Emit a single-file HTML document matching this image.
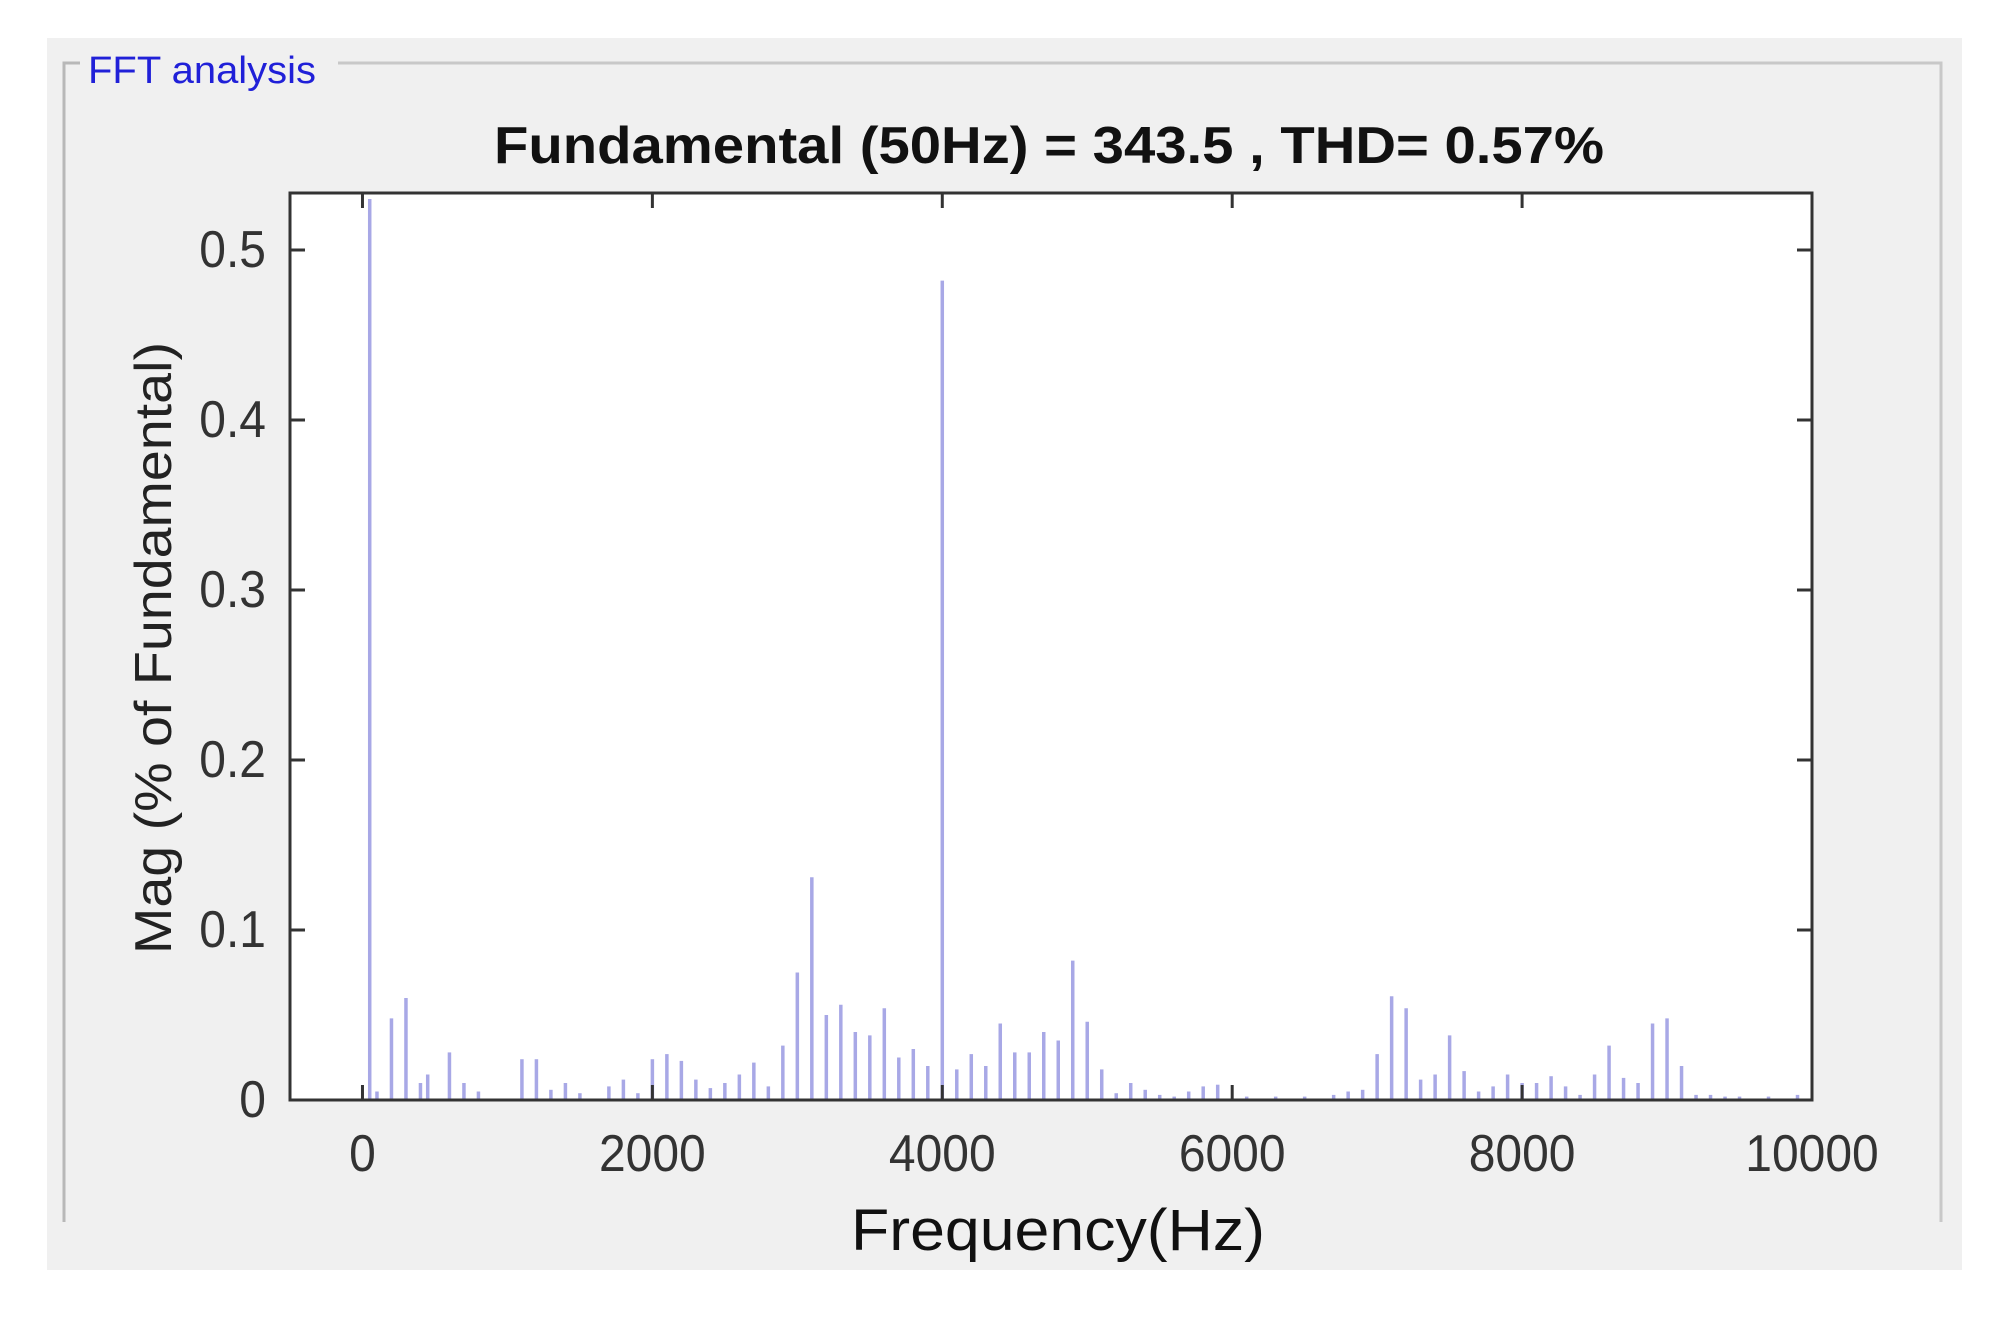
<!DOCTYPE html>
<html><head><meta charset="utf-8"><style>
html,body{margin:0;padding:0;background:#fff;width:2000px;height:1317px;overflow:hidden}
svg{display:block}
text{font-family:"Liberation Sans",sans-serif}
</style></head><body>
<svg id="chart" width="2000" height="1317" viewBox="0 0 2000 1317">
<rect x="47" y="38" width="1915" height="1232" fill="#f0f0f0"/>
<polyline points="64,1222 64,63 80,63" fill="none" stroke="#b8b8b8" stroke-width="3"/>
<polyline points="338,63 1941,63 1941,1222" fill="none" stroke="#c8c8c8" stroke-width="3"/>
<text x="88" y="83" font-size="38" fill="#2020d8" textLength="228" lengthAdjust="spacingAndGlyphs">FFT analysis</text>
<text x="1049" y="163" font-size="52" font-weight="bold" fill="#111" text-anchor="middle" textLength="1110" lengthAdjust="spacingAndGlyphs">Fundamental (50Hz) = 343.5 , THD= 0.57%</text>
<rect x="290" y="193" width="1522" height="907" fill="#fff"/>
<g id="stems"></g>
<g id="ticks"></g>
<rect x="290" y="193" width="1522" height="907" fill="none" stroke="#333" stroke-width="3"/>
<text x="1058" y="1250" font-size="58" fill="#111" text-anchor="middle" textLength="414" lengthAdjust="spacingAndGlyphs">Frequency(Hz)</text>
<text transform="translate(171,648) rotate(-90)" font-size="52" fill="#222" text-anchor="middle" textLength="612" lengthAdjust="spacingAndGlyphs">Mag (% of Fundamental)</text>
</svg>
<script>
const freqs = [50,100,200,300,400,450,600,700,800,1100,1200,1300,1400,1500,1700,1800,1900,2000,2100,2200,2300,2400,2500,2600,2700,2800,2900,3000,3100,3200,3300,3400,3500,3600,3700,3800,3900,4000,4100,4200,4300,4400,4500,4600,4700,4800,4900,5000,5100,5200,5300,5400,5500,5600,5700,5800,5900,6100,6300,6500,6700,6800,6900,7000,7100,7200,7300,7400,7500,7600,7700,7800,7900,8000,8100,8200,8300,8400,8500,8600,8700,8800,8900,9000,9100,9200,9300,9400,9500,9700,9900];
const mags = [0.53,0.005,0.048,0.06,0.01,0.015,0.028,0.01,0.005,0.024,0.024,0.006,0.01,0.004,0.008,0.012,0.004,0.024,0.027,0.023,0.012,0.007,0.01,0.015,0.022,0.008,0.032,0.075,0.131,0.05,0.056,0.04,0.038,0.054,0.025,0.03,0.02,0.482,0.018,0.027,0.02,0.045,0.028,0.028,0.04,0.035,0.082,0.046,0.018,0.004,0.01,0.006,0.003,0.002,0.005,0.008,0.009,0.002,0.002,0.002,0.003,0.005,0.006,0.027,0.061,0.054,0.012,0.015,0.038,0.017,0.005,0.008,0.015,0.01,0.01,0.014,0.008,0.003,0.015,0.032,0.013,0.01,0.045,0.048,0.02,0.003,0.003,0.002,0.002,0.002,0.003];
const xTicks = [0,2000,4000,6000,8000,10000];
const yTicks = [0,0.1,0.2,0.3,0.4,0.5];
const NS='http://www.w3.org/2000/svg';
const X0=290,X1=1812,Y0=1100,Y1=193,XMIN=-500,XMAX=10000,YMIN=0;
function xs(v){return X0+(v-XMIN)/(XMAX-XMIN)*(X1-X0);}
function ys(v){return Y0-(v-YMIN)*1700;}
const sg=document.getElementById('stems');
for(let i=0;i<freqs.length;i++){
  const l=document.createElementNS(NS,'line');
  const x=xs(freqs[i]);
  l.setAttribute('x1',x);l.setAttribute('x2',x);
  l.setAttribute('y1',Y0);l.setAttribute('y2',Math.max(Y1,ys(mags[i])));
  l.setAttribute('stroke','#a8a8e6');l.setAttribute('stroke-width','3.5');
  
  
  sg.appendChild(l);
}
const tg=document.getElementById('ticks');
function add(tag,attrs,txt){const e=document.createElementNS(NS,tag);for(const k in attrs)e.setAttribute(k,attrs[k]);if(txt!==undefined)e.textContent=txt;tg.appendChild(e);return e;}
xTicks.forEach(t=>{
  const x=xs(t);
  const a=add('line',{x1:x,x2:x,y1:Y0,y2:Y0-15,stroke:'#333','stroke-width':3});
  
  
  const b=add('line',{x1:x,x2:x,y1:Y1,y2:Y1+15,stroke:'#333','stroke-width':3});
  
  
  const lb=add('text',{x:x,y:1171,'font-size':48,fill:'#333','text-anchor':'middle',transform:'translate(0,'+(-1171*0.08)+') scale(1,1.08)'},String(t));
  
  
});
yTicks.forEach(t=>{
  const y=ys(t);
  const a=add('line',{x1:X0,x2:X0+15,y1:y,y2:y,stroke:'#333','stroke-width':3});
  
  
  const b=add('line',{x1:X1,x2:X1-15,y1:y,y2:y,stroke:'#333','stroke-width':3});
  
  
  const by=y+17;
  const lb=add('text',{x:266,y:by,'font-size':48,fill:'#333','text-anchor':'end',transform:'translate(0,'+(-by*0.08)+') scale(1,1.08)'},String(t));
  
  
});
</script>
</body></html>
